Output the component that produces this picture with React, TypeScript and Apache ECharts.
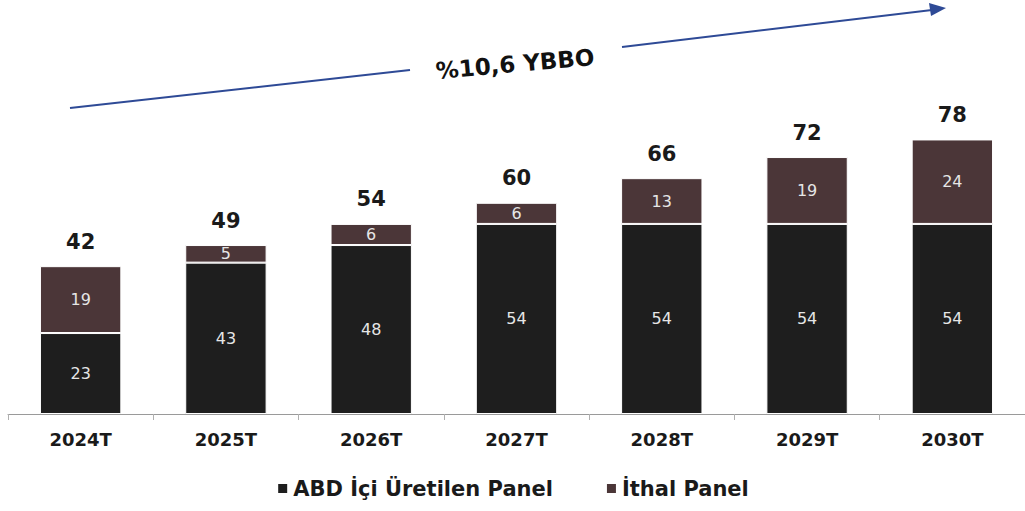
import React, { useEffect, useRef } from "react";
import * as echarts from "echarts";

const categories = ["2024T", "2025T", "2026T", "2027T", "2028T", "2029T", "2030T"];
const domestic = [23, 43, 48, 54, 54, 54, 54];
const imported = [19, 5, 6, 6, 13, 19, 24];
const totals = [42, 49, 54, 60, 66, 72, 78];
const seriesNames = ["ABD İçi Üretilen Panel", "İthal Panel"];
const cagrLabel = "%10,6 YBBO";

export default function App() {
  const ref = useRef<HTMLDivElement>(null);
  useEffect(() => {
    if (!ref.current) return;
    const chart = echarts.init(ref.current, null, { renderer: "svg" });
    const font = "DejaVu Sans";
    const blue = "#2e4a96";
    chart.setOption({
      animation: false,
      backgroundColor: "#ffffff",
      textStyle: { fontFamily: font },
      grid: { left: 8, right: 0, top: 62, bottom: 97, containLabel: false },
      legend: {
        bottom: 7,
        left: "center",
        itemWidth: 11,
        itemHeight: 11,
        itemGap: 52,
        icon: "rect",
        textStyle: { fontFamily: font, fontWeight: "bold", fontSize: 21, color: "#1a1a1a" },
        data: seriesNames,
      },
      xAxis: {
        type: "category",
        data: categories,
        axisLine: { show: true, lineStyle: { color: "#9a9a9a", width: 1 } },
        axisTick: { show: true, length: 6, lineStyle: { color: "#b0b0b0" } },
        axisLabel: { fontFamily: font, fontWeight: "bold", fontSize: 18, color: "#1a1a1a", margin: 16 },
      },
      yAxis: {
        type: "value",
        min: 0,
        max: 100,
        show: false,
        splitLine: { show: false },
      },
      series: [
        {
          name: seriesNames[0],
          type: "bar",
          stack: "t",
          data: domestic,
          barWidth: "56%",
          itemStyle: { color: "#1e1e1e", borderColor: "#ffffff", borderWidth: 1 },
          label: { show: true, position: "inside", color: "#e6e6e6", fontSize: 16, fontFamily: font },
        },
        {
          name: seriesNames[1],
          type: "bar",
          stack: "t",
          data: imported,
          barWidth: "56%",
          itemStyle: { color: "#4b3638", borderColor: "#ffffff", borderWidth: 1 },
          label: { show: true, position: "inside", color: "#e6e6e6", fontSize: 16, fontFamily: font },
        },
        {
          name: "total",
          type: "bar",
          stack: "t",
          data: totals.map(() => 0),
          barWidth: "56%",
          itemStyle: { color: "transparent" },
          label: {
            show: true,
            position: "top",
            distance: 14,
            fontFamily: font,
            fontWeight: "bold",
            fontSize: 21,
            color: "#1a1a1a",
            formatter: (p: any) => String(totals[p.dataIndex]),
          },
          tooltip: { show: false },
        },
      ],
      graphic: [
        {
          type: "line",
          shape: { x1: 70, y1: 108, x2: 410, y2: 70 },
          style: { stroke: blue, lineWidth: 2 },
        },
        {
          type: "line",
          shape: { x1: 622, y1: 47, x2: 932, y2: 10 },
          style: { stroke: blue, lineWidth: 2 },
        },
        {
          type: "polygon",
          shape: { points: [[946, 8], [929, 3], [931, 16]] },
          style: { fill: blue },
        },
        {
          type: "text",
          x: 515,
          y: 64,
          rotation: (5 * Math.PI) / 180,
          style: {
            text: cagrLabel,
            fontFamily: font,
            fontWeight: "bold",
            fontSize: 23,
            fill: "#111111",
            align: "center",
            verticalAlign: "middle",
          },
        },
      ],
    });
    return () => chart.dispose();
  }, []);
  return (
    <div
      ref={ref}
      style={{ position: "absolute", left: 0, top: 0, width: 1025, height: 511 }}
    />
  );
}
